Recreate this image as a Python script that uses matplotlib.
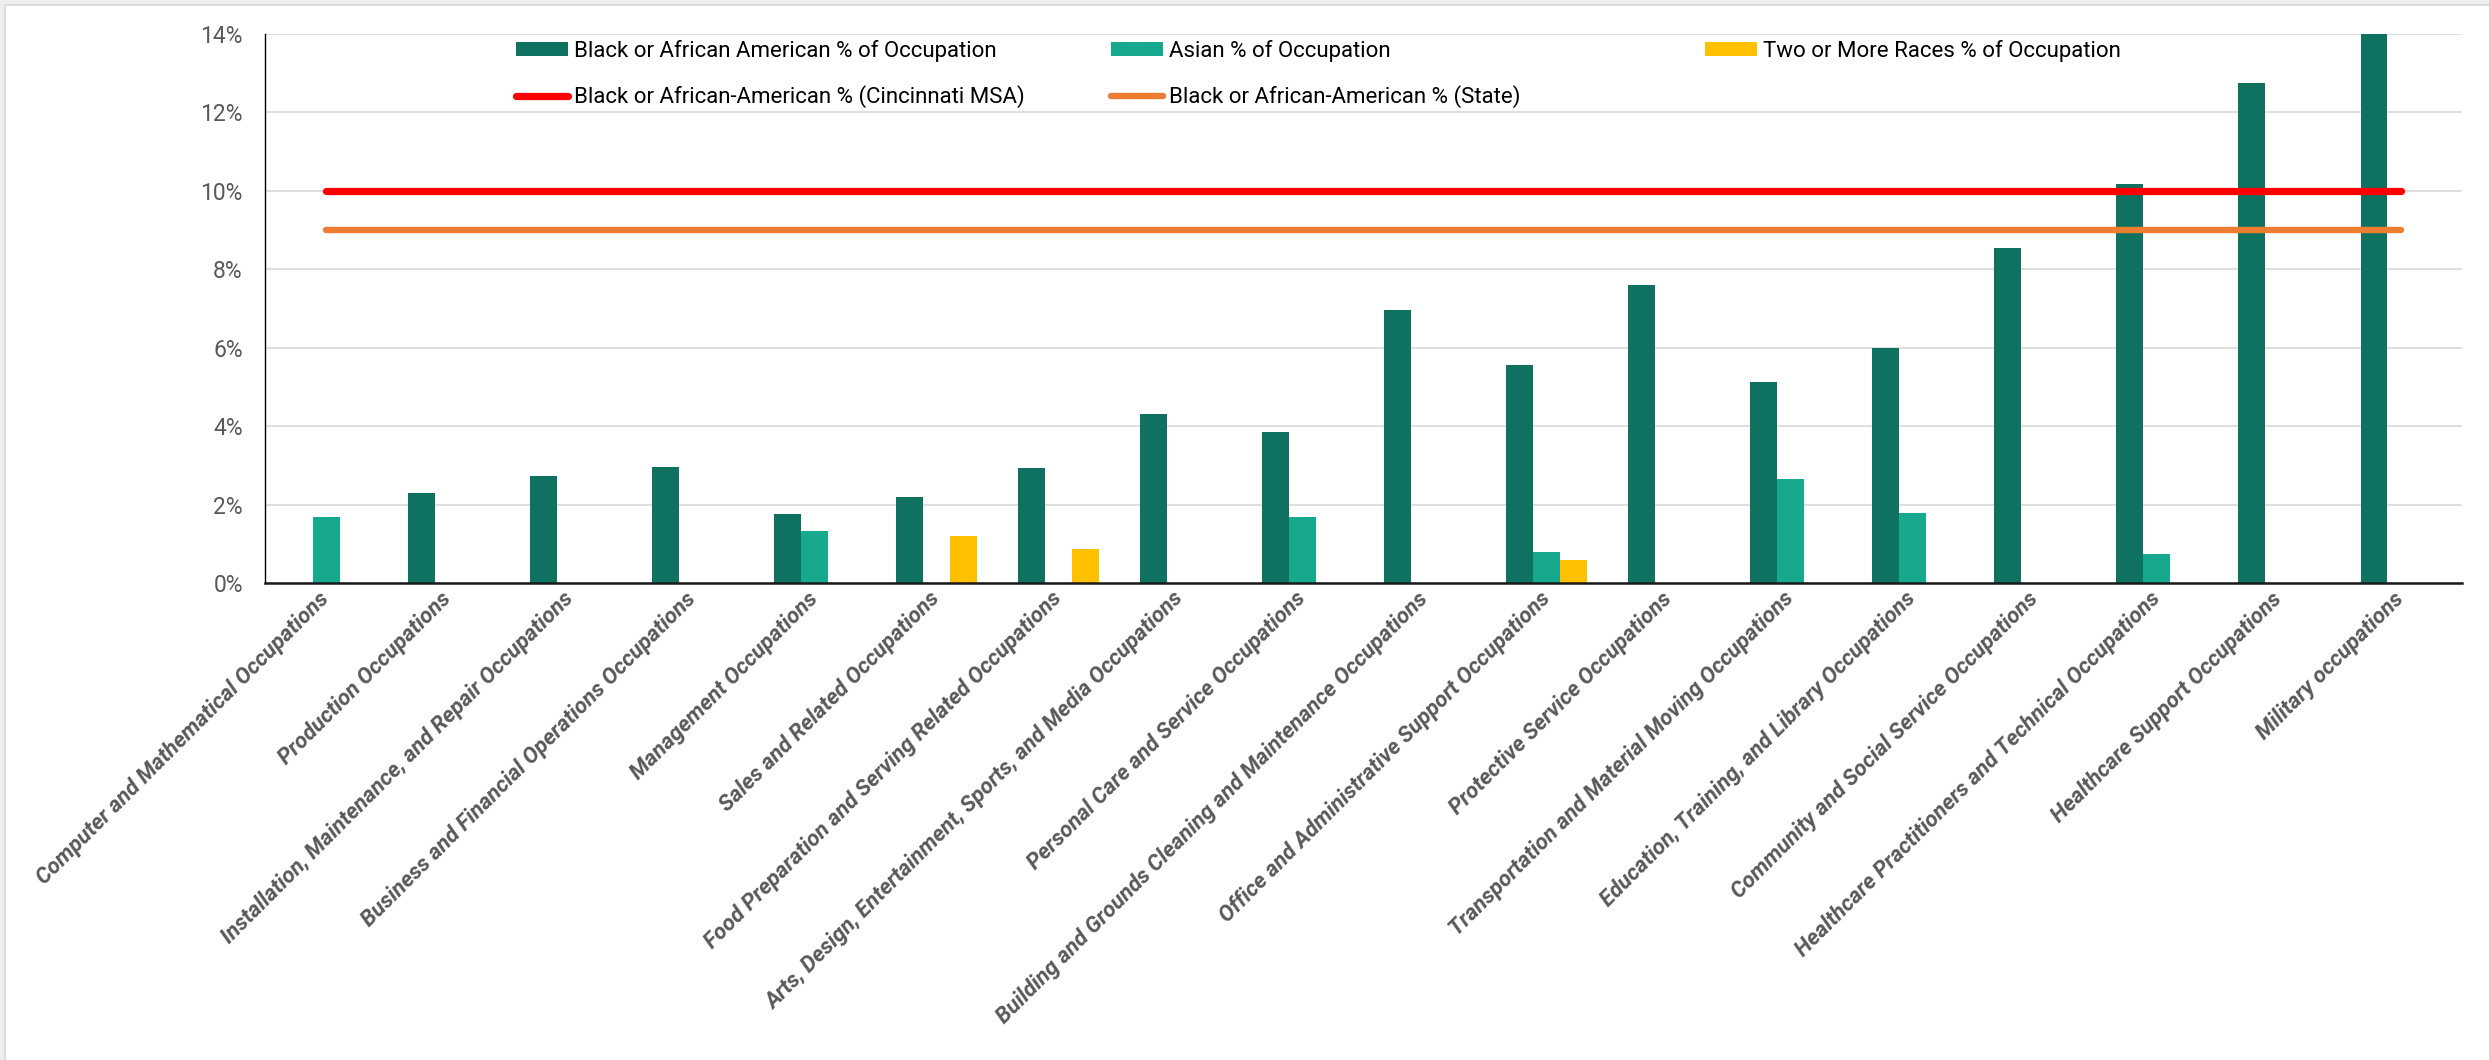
import matplotlib
matplotlib.use("Agg")
import matplotlib.pyplot as plt
from matplotlib import font_manager
from matplotlib.patches import Rectangle, Patch
from matplotlib.lines import Line2D
import numpy as np

# ---------------- data ----------------
categories = [
    "Computer and Mathematical Occupations",
    "Production Occupations",
    "Installation, Maintenance, and Repair Occupations",
    "Business and Financial Operations Occupations",
    "Management Occupations",
    "Sales and Related Occupations",
    "Food Preparation and Serving Related Occupations",
    "Arts, Design, Entertainment, Sports, and Media Occupations",
    "Personal Care and Service Occupations",
    "Building and Grounds Cleaning and Maintenance Occupations",
    "Office and Administrative Support Occupations",
    "Protective Service Occupations",
    "Transportation and Material Moving Occupations",
    "Education, Training, and Library Occupations",
    "Community and Social Service Occupations",
    "Healthcare Practitioners and Technical Occupations",
    "Healthcare Support Occupations",
    "Military occupations",
]
black_pct = [0.0, 2.29, 2.74, 2.95, 1.75, 2.20, 2.93, 4.31, 3.85, 6.95,
             5.55, 7.60, 5.13, 6.00, 8.54, 10.18, 12.75, 14.0]
asian_pct = [1.68, 0.0, 0.0, 0.0, 1.32, 0.0, 0.0, 0.0, 1.69, 0.0,
             0.79, 0.0, 2.64, 1.79, 0.0, 0.74, 0.0, 0.0]
two_plus_pct = [0.0, 0.0, 0.0, 0.0, 0.0, 1.19, 0.87, 0.0, 0.0, 0.0,
                0.59, 0.0, 0.0, 0.0, 0.0, 0.0, 0.0, 0.0]
msa_black_pct = 10.0
state_black_pct = 9.0
y_ticks = [0, 2, 4, 6, 8, 10, 12, 14]

series_labels = [
    "Black or African American % of Occupation",
    "Asian % of Occupation",
    "Two or More Races % of Occupation",
]
line_labels = [
    "Black or African-American % (Cincinnati MSA)",
    "Black or African-American % (State)",
]

# ---------------- style ----------------
available = {f.name for f in font_manager.fontManager.ttflist}
for cand in ["Liberation Sans Narrow", "Roboto", "Open Sans", "DejaVu Sans"]:
    if cand in available:
        FONT = cand
        break
plt.rcParams["font.family"] = [FONT, "DejaVu Sans"]

C_BLACK = "#0F7261"
C_ASIAN = "#17A98D"
C_TWO = "#FFC000"
C_MSA = "#FF0000"
C_STATE = "#ED7D31"
TXT = "#595959"

W, H = 2489, 1060
fig = plt.figure(figsize=(W / 100, H / 100), dpi=100)
fig.patch.set_facecolor("white")

# outer frame bits (light gray top and left bands)
fig.add_artist(Rectangle((0, 1 - 4 / H), 1, 4 / H, transform=fig.transFigure,
                         facecolor="#EFEFF1", edgecolor="none", zorder=0))
fig.add_artist(Rectangle((0, 1 - 6 / H), 1, 2 / H, transform=fig.transFigure,
                         facecolor="#DCDCDC", edgecolor="none", zorder=0))
fig.add_artist(Rectangle((0, 0), 4 / W, 1, transform=fig.transFigure,
                         facecolor="#EFEFF1", edgecolor="none", zorder=0))
fig.add_artist(Rectangle((4 / W, 0), 2 / W, 1 - 6 / H, transform=fig.transFigure,
                         facecolor="#DCDCDC", edgecolor="none", zorder=0))

left, right, top, bottom = 265, 2462, 34, 583
ax = fig.add_axes([left / W, 1 - bottom / H, (right - left) / W, (bottom - top) / H])

n = len(categories)
x = np.arange(n)
bw = 0.221
ax.bar(x - bw, black_pct, bw, color=C_BLACK, zorder=3, linewidth=0)
ax.bar(x, asian_pct, bw, color=C_ASIAN, zorder=3, linewidth=0)
ax.bar(x + bw, two_plus_pct, bw, color=C_TWO, zorder=3, linewidth=0)

ax.plot(x, [msa_black_pct] * n, color=C_MSA, lw=5.2, solid_capstyle="round", zorder=5)
ax.plot(x, [state_black_pct] * n, color=C_STATE, lw=4.6, solid_capstyle="round", zorder=4)

ax.set_xlim(-0.5, n - 0.5)
ax.set_ylim(0, 14)
ax.set_yticks(y_ticks)
ax.set_yticklabels([f"{v}%" for v in y_ticks], color=TXT, fontsize=16.5)
ax.tick_params(axis="y", length=0, pad=16)
ax.set_xticks(x)
ax.set_xticklabels(categories, rotation=45, ha="right", va="center",
                   rotation_mode="anchor", color=TXT, fontsize=16,
                   fontweight="bold", fontstyle="italic")
ax.tick_params(axis="x", length=0, pad=9)

ax.grid(axis="y", color="#D9D9D9", lw=1.2, zorder=0)
ax.set_axisbelow(True)
for s in ["top", "right"]:
    ax.spines[s].set_visible(False)
ax.spines["left"].set_color("black")
ax.spines["left"].set_linewidth(1.0)
ax.spines["bottom"].set_color("#1a1a1a")
ax.spines["bottom"].set_linewidth(1.8)
ax.spines["bottom"].set_zorder(6)

# ---------------- legends (three columns) ----------------
leg_kw = dict(loc="upper left", bbox_transform=fig.transFigure, frameon=False,
              fontsize=16, borderpad=0, borderaxespad=0, handlelength=2.35,
              handleheight=0.6, handletextpad=0.28, labelspacing=1.05)
h_black = Patch(facecolor=C_BLACK)
h_asian = Patch(facecolor=C_ASIAN)
h_two = Patch(facecolor=C_TWO)
h_msa = Line2D([0], [1], color=C_MSA, lw=5.2, solid_capstyle="round")
h_state = Line2D([0], [1], color=C_STATE, lw=4.6, solid_capstyle="round")

ytop = 1 - 40 / H
l1 = fig.legend([h_black, h_msa], [series_labels[0], line_labels[0]],
                bbox_to_anchor=(516 / W, ytop), **leg_kw)
l2 = fig.legend([h_asian, h_state], [series_labels[1], line_labels[1]],
                bbox_to_anchor=(1111 / W, ytop), **leg_kw)
l3 = fig.legend([h_two], [series_labels[2]],
                bbox_to_anchor=(1705 / W, ytop), **leg_kw)
for lg in (l1, l2, l3):
    for t in lg.get_texts():
        t.set_color("black")

fig.savefig("out.png", dpi=100, facecolor="white")
